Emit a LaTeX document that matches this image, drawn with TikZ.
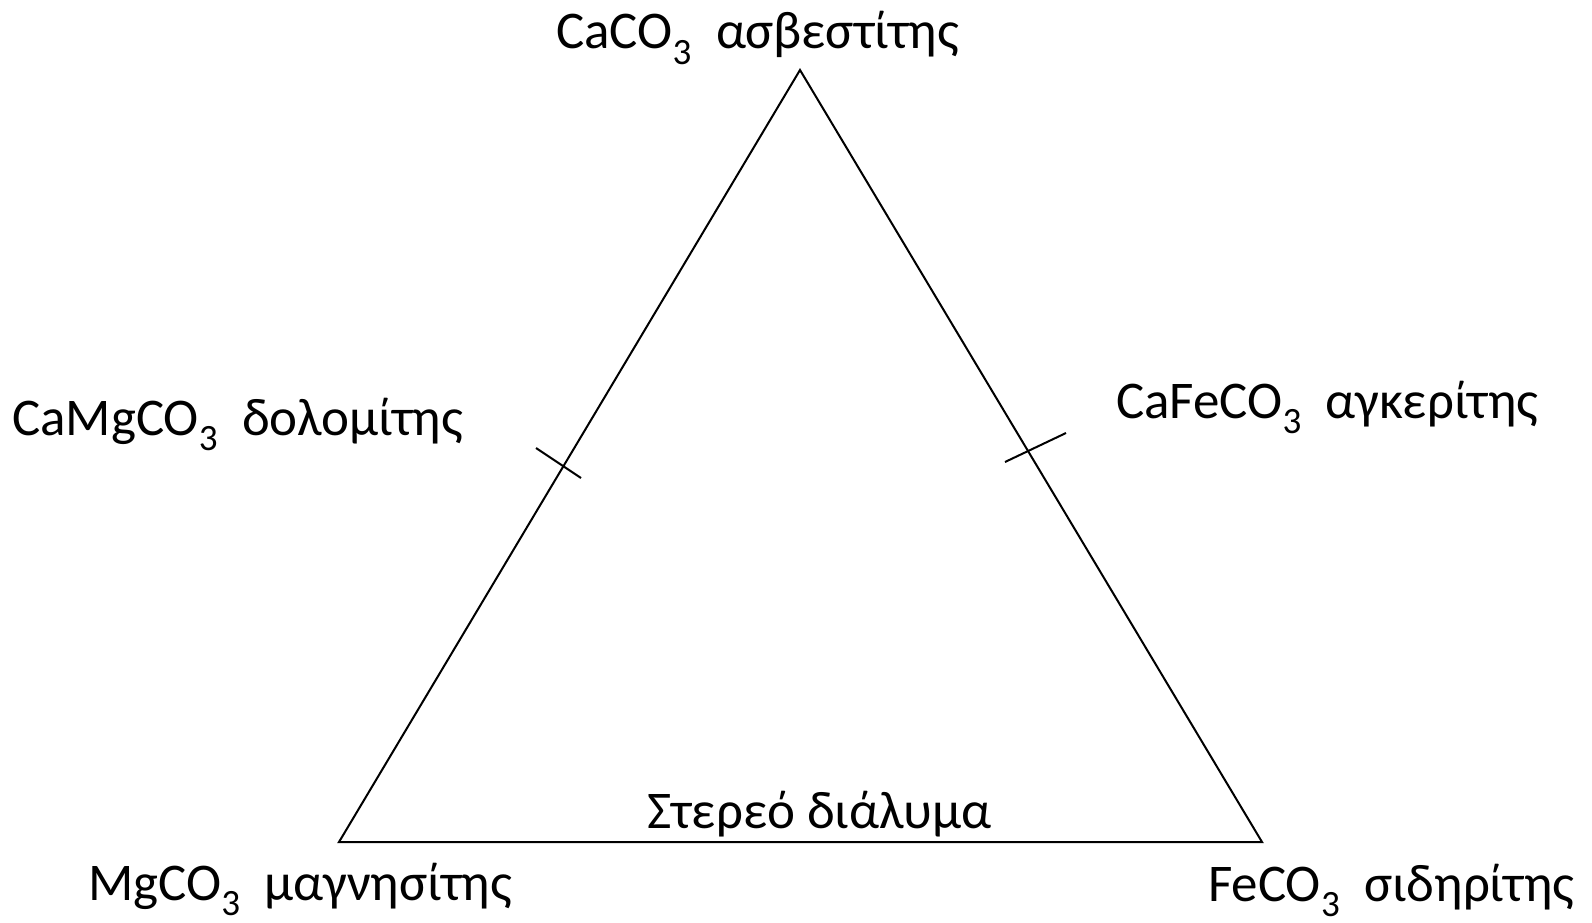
\documentclass[tikz,border=0pt]{standalone}
\usepackage{fontspec}
\setmainfont{Carlito}
\usepackage{tikz}

\begin{document}
\begin{tikzpicture}[x=1pt,y=-1pt,
   mineral/.style={anchor=base west,inner sep=0pt,font=\fontsize{53}{64}\selectfont},
   edge/.style={line width=2pt,line join=miter}]
   \useasboundingbox (0,0) rectangle (1592,923);

   \coordinate (ca) at (800,70);
   \coordinate (mg) at (339,842);
   \coordinate (fe) at (1262,842);
   \draw[edge] (mg) -- (ca) -- (fe) -- cycle;

   % dolomite and ankerite marks
   \coordinate (d1) at (536,448);
   \coordinate (d2) at (581,478);
   \coordinate (a1) at (1005,462);
   \coordinate (a2) at (1066,433);
   \draw[edge] (d1) -- (d2);
   \draw[edge] (a1) -- (a2);

   \node[mineral] (calcite) at (556,49) {CaCO\textsubscript{3}\ \ ασβεστίτης};
   \node[mineral] (dolomite) at (12,435) {CaMgCO\textsubscript{3}\ \ δολομίτης};
   \node[mineral] (ankerite) at (1116,418) {CaFeCO\textsubscript{3}\ \ αγκερίτης};
   \node[mineral] (solid) at (647,828) {Στερεό διάλυμα};
   \node[mineral] (magnesite) at (88,900) {MgCO\textsubscript{3}\ \ μαγνησίτης};
   \node[mineral] (siderite) at (1208,901) {FeCO\textsubscript{3}\ \ σιδηρίτης};
\end{tikzpicture}
\end{document}
